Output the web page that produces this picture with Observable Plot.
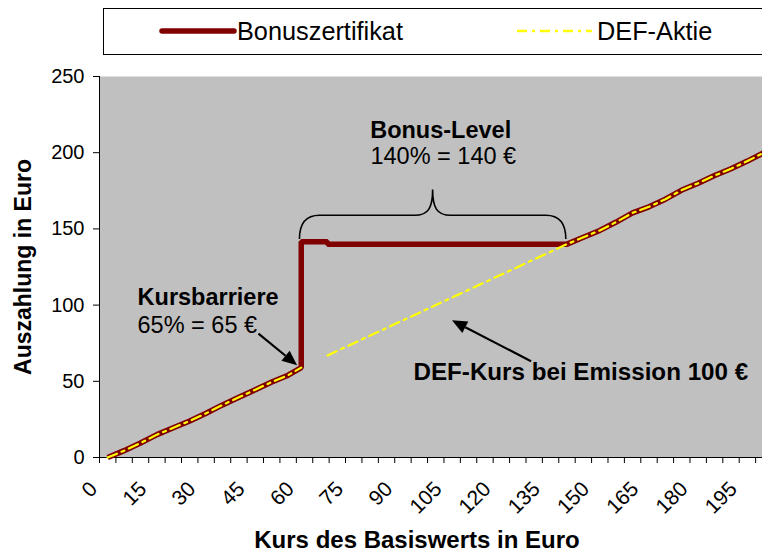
<!DOCTYPE html>
<html>
<head>
<meta charset="utf-8">
<script src="https://cdn.jsdelivr.net/npm/d3@7"></script>
<script src="https://cdn.jsdelivr.net/npm/@observablehq/plot@0.6"></script>
<style>
  html, body { margin: 0; padding: 0; background: #fff; overflow: hidden; }
  body { width: 762px; height: 555px; font-family: "Liberation Sans", Arial, sans-serif; }
  #legend { display: block; }
</style>
</head>
<body>
<svg id="legend" width="762" height="60"></svg>
<div id="chart"></div>
<script>
// ---- Data ----
const seriesNames = ["Bonuszertifikat", "DEF-Aktie"];

// Bonuszertifikat payoff (Kurs des Basiswerts -> Auszahlung)
const bonusKurs = [0, 5, 10, 15, 20, 25, 30, 35, 40, 45, 50, 55, 59, 59, 67, 67, 140, 145, 150, 155, 160, 165, 170, 175, 180, 185, 190, 195, 200];
const bonusWert = [0, 4.5, 9.5, 15, 19.5, 24, 29, 34.5, 39.5, 44.5, 49.5, 54, 59, 141.5, 141.5, 140, 140, 144.5, 149, 154.5, 160.5, 164.5, 169.5, 175.5, 180, 185, 189.5, 194.5, 200];

// DEF-Aktie (gap between 59 and 67, marked by null)
const aktieKurs = [0, 5, 10, 15, 20, 25, 30, 35, 40, 45, 50, 55, 59, 63, 67, 70, 75, 80, 85, 90, 95, 100, 105, 110, 115, 120, 125, 130, 135, 140, 145, 150, 155, 160, 165, 170, 175, 180, 185, 190, 195, 200];
const aktieWert = [0, 4.5, 9.5, 15, 19.5, 24, 29, 34.5, 39.5, 44.5, 49.5, 54, 59, null, 67, 70, 75, 80, 85, 90, 95, 100, 105, 110, 115, 120, 125, 130, 135, 140, 144.5, 149, 154.5, 160.5, 164.5, 169.5, 175.5, 180, 185, 189.5, 194.5, 200];

// Axis categories and labels
const categories = [0, 5, 10, 15, 20, 25, 30, 35, 40, 45, 50, 55, 60, 65, 70, 75, 80, 85, 90, 95, 100, 105, 110, 115, 120, 125, 130, 135, 140, 145, 150, 155, 160, 165, 170, 175, 180, 185, 190, 195, 200];
const xTickLabels = [0, 15, 30, 45, 60, 75, 90, 105, 120, 135, 150, 165, 180, 195];
const yTickLabels = [0, 50, 100, 150, 200, 250];

const xTitle = "Kurs des Basiswerts in Euro";
const yTitle = "Auszahlung in Euro";

// Annotations
const barrierLabel = ["Kursbarriere", "65% = 65 €"];
const bonusLabel = ["Bonus-Level", "140% = 140 €"];
const emissionLabel = "DEF-Kurs bei Emission 100 €";

// ---- Build tables ----
const bonusData = bonusKurs.map((k, i) => ({kurs: k, wert: bonusWert[i]}));
const aktieData = aktieKurs.map((k, i) => ({kurs: k, wert: aktieWert[i]}));
const tickMarks = categories.map(c => c - 2.5); // ticks between categories

const DARKRED = "#800000";
const YELLOW = "#FFFF00";
const FONT = "'Liberation Sans', Arial, sans-serif";

// ---- Legend (SVG above the chart) ----
(function () {
  const L = d3.select("#legend");
  L.append("rect").attr("x", 103.5).attr("y", 8.5).attr("width", 700).attr("height", 46)
    .attr("fill", "#fff").attr("stroke", "#000").attr("stroke-width", 1);
  L.append("line").attr("x1", 162).attr("x2", 234).attr("y1", 31).attr("y2", 31)
    .attr("stroke", DARKRED).attr("stroke-width", 5.5).attr("stroke-linecap", "round");
  L.append("text").attr("x", 237).attr("y", 31).attr("dy", "0.35em")
    .attr("font-family", FONT).attr("font-size", 25.3).text(seriesNames[0]);
  L.append("line").attr("x1", 517).attr("x2", 592).attr("y1", 31).attr("y2", 31)
    .attr("stroke", YELLOW).attr("stroke-width", 2.5).attr("stroke-dasharray", "10,5,3,5");
  L.append("text").attr("x", 597).attr("y", 31).attr("dy", "0.35em")
    .attr("font-family", FONT).attr("font-size", 25.3).text(seriesNames[1]);
})();

// ---- Custom annotation mark: brace + arrows, positioned through scales ----
function annotations(index, scales) {
  const x = scales.x, y = scales.y;
  const ns = "http://www.w3.org/2000/svg";
  const g = document.createElementNS(ns, "g");
  const X1 = x(58.6), X2 = x(139.8), YB = y(143), YM = y(158.6), XT = x(99.2), YT = y(175.5);
  const r = 20;
  const d = `M${X1},${YB} C${X1},${YM + 8} ${X1 + 6},${YM} ${X1 + r},${YM} L${XT - 18},${YM} C${XT - 4},${YM} ${XT},${YM - 8} ${XT},${YT}` +
            ` M${XT},${YT} C${XT},${YM - 8} ${XT + 4},${YM} ${XT + 18},${YM} L${X2 - r},${YM} C${X2 - 6},${YM} ${X2},${YM + 8} ${X2},${YB}`;
  const p = document.createElementNS(ns, "path");
  p.setAttribute("d", d); p.setAttribute("fill", "none");
  p.setAttribute("stroke", "#000"); p.setAttribute("stroke-width", 1.6);
  g.appendChild(p);
  const arrows = [
    {x1: 46.1, y1: 81, x2: 57.9, y2: 60.2},
    {x1: 129.2, y1: 62.8, x2: 105.1, y2: 89.7}
  ];
  for (const a of arrows) {
    const ax1 = x(a.x1), ay1 = y(a.y1), ax2 = x(a.x2), ay2 = y(a.y2);
    const dx = ax2 - ax1, dy = ay2 - ay1, len = Math.hypot(dx, dy);
    const ux = dx / len, uy = dy / len, hl = 15, hw = 6.5;
    const bx = ax2 - ux * hl, by = ay2 - uy * hl;
    const l = document.createElementNS(ns, "line");
    l.setAttribute("x1", ax1); l.setAttribute("y1", ay1);
    l.setAttribute("x2", bx); l.setAttribute("y2", by);
    l.setAttribute("stroke", "#000"); l.setAttribute("stroke-width", 2.2);
    g.appendChild(l);
    const h = document.createElementNS(ns, "path");
    h.setAttribute("d", `M${ax2},${ay2} L${bx - uy * hw},${by + ux * hw} L${bx + uy * hw},${by - ux * hw} Z`);
    h.setAttribute("fill", "#000");
    g.appendChild(h);
  }
  return g;
}

// ---- Chart ----
const chart = Plot.plot({
  width: 762,
  height: 495,
  marginLeft: 99,
  marginRight: 0,
  marginTop: 16,
  marginBottom: 98,
  style: {fontFamily: FONT, fontSize: "20px", background: "transparent", color: "#000", overflow: "visible"},
  x: {domain: [-2.5, 199.6]},
  y: {domain: [0, 250]},
  marks: [
    Plot.frame({fill: "#C0C0C0", stroke: null}),
    Plot.axisY({ticks: yTickLabels, tickSize: 6, tickPadding: 9, label: null, fontSize: 20, stroke: "#000"}),
    Plot.axisX({ticks: tickMarks, tickSize: 6, tickFormat: () => "", label: null, stroke: "#000"}),
    Plot.ruleX([-2.5], {stroke: "#000", strokeWidth: 1}),
    Plot.ruleY([0], {stroke: "#000", strokeWidth: 1}),
    Plot.text(xTickLabels, {x: d => d, frameAnchor: "bottom", text: d => String(d), rotate: -45, textAnchor: "end", lineAnchor: "middle", dx: -14, dy: 28, fontSize: 21}),
    Plot.line(bonusData, {x: "kurs", y: "wert", stroke: DARKRED, strokeWidth: 5.5, strokeLinejoin: "miter", strokeLinecap: "butt"}),
    Plot.line(aktieData, {x: "kurs", y: "wert", stroke: YELLOW, strokeWidth: 2.2, strokeDasharray: "10,5,3,5"}),
    annotations,
    Plot.text([barrierLabel[0]], {x: 9.1, y: 104.8, text: d => d, textAnchor: "start", fontWeight: "bold", fontSize: 23.5}),
    Plot.text([barrierLabel[1]], {x: 9.1, y: 86.4, text: d => d, textAnchor: "start", fontSize: 23.5}),
    Plot.text([bonusLabel[0]], {x: 101.5, y: 214.8, text: d => d, textAnchor: "middle", fontWeight: "bold", fontSize: 23.5}),
    Plot.text([bonusLabel[1]], {x: 102.3, y: 197.3, text: d => d, textAnchor: "middle", fontSize: 23.5}),
    Plot.text([emissionLabel], {x: 93.2, y: 56, text: d => d, textAnchor: "start", fontWeight: "bold", fontSize: 24.2}),
    Plot.text([xTitle], {frameAnchor: "bottom", text: d => d, textAnchor: "middle", lineAnchor: "middle", dx: -14, dy: 83, fontWeight: "bold", fontSize: 24}),
    Plot.text([yTitle], {frameAnchor: "left", text: d => d, rotate: -90, textAnchor: "middle", lineAnchor: "middle", dx: -76, fontWeight: "bold", fontSize: 23})
  ]
});
document.getElementById("chart").appendChild(chart);
</script>
</body>
</html>
